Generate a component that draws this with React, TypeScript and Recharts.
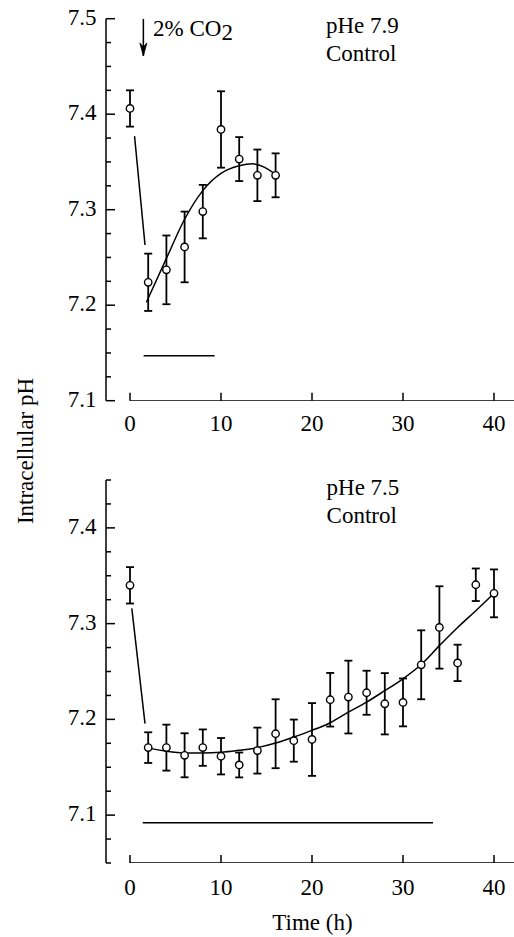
import React from 'react';
import { ComposedChart, Scatter, Line, XAxis, YAxis, ErrorBar, ReferenceDot } from 'recharts';

const FONT = '"Liberation Serif", "Times New Roman", Times, serif';
const FS = 23;

// ---------- shared axis data ----------
const timeTicks = [0, 10, 20, 30, 40];
const timeDomain = [-2.637, 42.198];

// ---------- top panel (pHe 7.9) ----------
const topTime = [0, 2, 4, 6, 8, 10, 12, 14, 16];
const topPH = [7.406, 7.224, 7.237, 7.261, 7.298, 7.384, 7.353, 7.336, 7.336];
const topErr = [0.019, 0.03, 0.036, 0.037, 0.028, 0.04, 0.023, 0.027, 0.023];
const topFitTime = [1.8, 4, 6, 8, 10, 12, 13.5, 16];
const topFitPH = [7.203, 7.249, 7.29, 7.32, 7.338, 7.346, 7.348, 7.337];
const topDropTime = [0.5, 1.65];
const topDropPH = [7.377, 7.263];
const topBarTime = [1.5, 9.3];
const topBarPH = [7.147, 7.147];
const topYTicks = [7.1, 7.125, 7.15, 7.175, 7.2, 7.225, 7.25, 7.275, 7.3, 7.325, 7.35, 7.375, 7.4, 7.425, 7.45, 7.475, 7.5];
const topYMajor = [7.1, 7.2, 7.3, 7.4, 7.5];
const topArrowTime = [1.47, 1.47];
const topArrowPH = [7.5, 7.461];

// ---------- bottom panel (pHe 7.5) ----------
const botTime = [0, 2, 4, 6, 8, 10, 12, 14, 16, 18, 20, 22, 24, 26, 28, 30, 32, 34, 36, 38, 40];
const botPH = [7.340, 7.1705, 7.1705, 7.1625, 7.1705, 7.1615, 7.1524, 7.1674, 7.185, 7.1778, 7.179, 7.2205, 7.2233, 7.2278, 7.2163, 7.2177, 7.257, 7.296, 7.259, 7.3406, 7.3316];
const botErr = [0.019, 0.016, 0.024, 0.023, 0.019, 0.019, 0.013, 0.024, 0.036, 0.022, 0.038, 0.028, 0.038, 0.023, 0.032, 0.025, 0.036, 0.043, 0.019, 0.017, 0.025];
const botFitTime = [1.8, 4, 6, 8, 10, 12, 14, 16, 18, 20, 22, 24, 26, 28, 30, 32, 34, 36, 38, 40];
const botFitPH = [7.1705, 7.1667, 7.165, 7.165, 7.1656, 7.1677, 7.1705, 7.1753, 7.1816, 7.1885, 7.1965, 7.2076, 7.218, 7.23, 7.2424, 7.2573, 7.277, 7.296, 7.3135, 7.3316];
const botDropTime = [0.2, 1.65];
const botDropPH = [7.316, 7.1955];
const botBarTime = [1.4, 33.3];
const botBarPH = [7.092, 7.092];
const botYTicks = [7.05, 7.075, 7.1, 7.125, 7.15, 7.175, 7.2, 7.225, 7.25, 7.275, 7.3, 7.325, 7.35, 7.375, 7.4, 7.425, 7.45];
const botYMajor = [7.1, 7.2, 7.3, 7.4];

// ---------- text ----------
const co2Label = { t: 2.53, ph: 7.4819 };
const topTitle = { t: 21.54, line1: 7.4847, line2: 7.4552, text1: 'pHe 7.9', text2: 'Control' };
const botTitle = { t: 21.6, line1: 7.4343, line2: 7.4047, text1: 'pHe 7.5', text2: 'Control' };

const pts = (t: number[], v: number[], e?: number[]) =>
  t.map((x, i) => ({ t: x, ph: v[i], err: e ? e[i] : 0 }));

const XTick = (props: any) => {
  const { x, y, payload, off } = props;
  return (
    <g>
      <line x1={x} x2={x} y1={y} y2={y - 8} stroke="#000" strokeWidth={1.5} />
      <text x={x} y={y + off} textAnchor="middle" fontSize={FS} fontFamily={FONT} fill="#000">
        {payload.value}
      </text>
    </g>
  );
};

const YTick = (props: any) => {
  const { x, y, payload, majors } = props;
  const major = majors.includes(payload.value);
  return (
    <g>
      <line x1={x} x2={x + (major ? 9 : 5)} y1={y} y2={y} stroke="#000" strokeWidth={1.5} />
      {major && (
        <text x={x - 9.5} y={y + 6} textAnchor="end" fontSize={FS} fontFamily={FONT} fill="#000">
          {payload.value.toFixed(1)}
        </text>
      )}
    </g>
  );
};

const Circle = (p: any) => (
  <circle cx={p.cx} cy={p.cy} r={3.7} fill="#fff" stroke="#000" strokeWidth={1.4} />
);

const TextShape = (text: string, sub?: string) => (p: any) => (
  <text x={p.cx} y={p.cy} fontSize={FS} fontFamily={FONT} fill="#000">
    {text}
    {sub && <tspan dy={4}>{sub}</tspan>}
  </text>
);

const ArrowHead = (p: any) => (
  <path
    d={`M ${p.cx - 3.5} ${p.cy - 13} L ${p.cx} ${p.cy} L ${p.cx + 3.5} ${p.cy - 13} L ${p.cx} ${p.cy - 9} Z`}
    fill="#000"
    stroke="#000"
    strokeWidth={0.8}
  />
);

const plainLine = (data: any[], key: string, type: any = 'linear') => (
  <Line
    key={key}
    data={data}
    dataKey="ph"
    type={type}
    dot={false}
    activeDot={false}
    stroke="#000"
    strokeWidth={1.5}
    isAnimationActive={false}
  />
);

const Panel = (props: any) => {
  const { height, top, xAxisH, yDomain, yTicks, yMajor, mean, fit, drop, bar, title, tickOff, children } = props;
  const yMin = yDomain[0];
  return (
    <ComposedChart width={514} height={height} margin={{ top, right: 0, bottom: 0, left: 0 }}>
      <XAxis
        dataKey="t"
        type="number"
        domain={timeDomain}
        ticks={timeTicks}
        interval={0}
        allowDataOverflow
        axisLine={false}
        tickLine={false}
        tickSize={0}
        tickMargin={0}
        height={xAxisH}
        tick={<XTick off={tickOff} />}
      />
      <YAxis
        type="number"
        domain={yDomain}
        ticks={yTicks}
        interval={0}
        allowDataOverflow
        width={106}
        axisLine={{ stroke: '#000', strokeWidth: 1.5 }}
        tickLine={false}
        tickSize={0}
        tickMargin={0}
        tick={<YTick majors={yMajor} />}
      />
      {plainLine([{ t: 0, ph: yMin }, { t: timeDomain[1], ph: yMin }], 'xaxis')}
      {plainLine(fit, 'fit', 'monotone')}
      {plainLine(drop, 'drop')}
      {plainLine(bar, 'bar')}
      {children}
      <Scatter data={mean} dataKey="ph" shape={Circle} isAnimationActive={false}>
        <ErrorBar dataKey="err" direction="y" width={4} stroke="#000" strokeWidth={1.8} />
      </Scatter>
      <ReferenceDot x={title.t} y={title.line1} r={0} shape={TextShape(title.text1)} />
      <ReferenceDot x={title.t} y={title.line2} r={0} shape={TextShape(title.text2)} />
    </ComposedChart>
  );
};

export default function App() {
  return (
    <div style={{ position: 'absolute', left: 0, top: 0, width: 514, height: 937, background: '#fff' }}>
      <div style={{ position: 'absolute', left: 0, top: 0 }}>
        <Panel
          height={440}
          top={18.7}
          xAxisH={39.3}
          yDomain={[7.1, 7.5]}
          yTicks={topYTicks}
          yMajor={topYMajor}
          mean={pts(topTime, topPH, topErr)}
          fit={pts(topFitTime, topFitPH)}
          drop={pts(topDropTime, topDropPH)}
          bar={pts(topBarTime, topBarPH)}
          title={topTitle}
          tickOff={30}
        >
          {plainLine(pts(topArrowTime, topArrowPH), 'arrow')}
          <ReferenceDot x={topArrowTime[1]} y={topArrowPH[1]} r={0} shape={ArrowHead} />
          <ReferenceDot x={co2Label.t} y={co2Label.ph} r={0} shape={TextShape('2% CO', '2')} />
        </Panel>
      </div>
      <div style={{ position: 'absolute', left: 0, top: 440 }}>
        <Panel
          height={497}
          top={40}
          xAxisH={74}
          yDomain={[7.05, 7.45]}
          yTicks={botYTicks}
          yMajor={botYMajor}
          mean={pts(botTime, botPH, botErr)}
          fit={pts(botFitTime, botFitPH)}
          drop={pts(botDropTime, botDropPH)}
          bar={pts(botBarTime, botBarPH)}
          title={botTitle}
          tickOff={32}
        />
      </div>
      <svg width={514} height={937} style={{ position: 'absolute', left: 0, top: 0, pointerEvents: 'none' }}>
        <text x={312.5} y={930} textAnchor="middle" fontSize={FS} fontFamily={FONT} fill="#000">
          Time (h)
        </text>
        <text
          x={0}
          y={0}
          transform="translate(33 451) rotate(-90)"
          textAnchor="middle"
          fontSize={FS}
          fontFamily={FONT}
          fill="#000"
        >
          Intracellular pH
        </text>
      </svg>
    </div>
  );
}
